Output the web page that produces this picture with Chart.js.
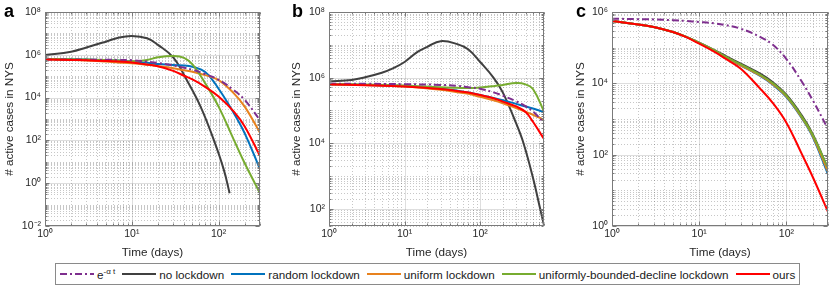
<!DOCTYPE html>
<html lang="en">
  <head>
    <meta charset="UTF-8" />
    <title>active cases in NYS</title>
    <style>
      body { margin: 0; width: 831px; height: 288px; background: #fff; position: relative; overflow: hidden;
             font-family: 'Liberation Sans', Arial, Helvetica, sans-serif; color: #262626; }
      .panel { position: absolute; top: 0; height: 262px; }
      .tag { position: absolute; top: 2px; font-weight: bold; font-size: 18px; line-height: 18px; color: #000; }
      #legend { position: absolute; left: 55px; top: 263px; height: 20px; border: 1px solid #8a8a8a;
                display: flex; align-items: center; padding: 0 4px; white-space: nowrap; font-size: 11.7px; color: #1a1a1a; }
      #legend .item { display: flex; align-items: center; margin-right: 7px; }
      #legend .item:last-child { margin-right: 0; }
      #legend svg { margin-right: 3px; }
      #legend sup { font-size: 8px; vertical-align: 5px; line-height: 0; }
    </style>
  </head>
  <body>
    <div class="panel" style="left:0;width:270px"><canvas id="chartA"></canvas></div>
    <div class="panel" style="left:275px;width:275px"><canvas id="chartB"></canvas></div>
    <div class="panel" style="left:555px;width:276px"><canvas id="chartC"></canvas></div>
    <div class="tag" style="left:4px">a</div>
    <div class="tag" style="left:292px">b</div>
    <div class="tag" style="left:576px">c</div>
    <div id="legend"></div>

    <script src="https://cdn.jsdelivr.net/npm/chart.js"></script>
    <script>
      // series names and colours
      const names = ["e-αt", "no lockdown", "random lockdown", "uniform lockdown", "uniformly-bounded-decline lockdown", "ours"];
      const colors = ["#7E2F8E", "#404040", "#0072BD", "#E8821E", "#77AC30", "#FF0000"];

      // tick labels
      const xTicks = [1, 10, 100];
      const xTickLabels = ["10⁰", "10¹", "10²"];
      const yTicksA = [1e-2, 1, 1e2, 1e4, 1e6, 1e8];
      const yTickLabelsA = ["10⁻²", "10⁰", "10²", "10⁴", "10⁶", "10⁸"];
      const yTicksB = [1e2, 1e4, 1e6, 1e8];
      const yTickLabelsB = ["10²", "10⁴", "10⁶", "10⁸"];
      const yTicksC = [1, 1e2, 1e4, 1e6];
      const yTickLabelsC = ["10⁰", "10²", "10⁴", "10⁶"];

      // panel a
      const tA = [1, 2, 3, 5, 7, 10, 15, 20, 30, 40, 50, 70, 100, 150, 200, 300];
      const expA = [6.0e5, 6.0e5, 5.9e5, 5.9e5, 5.75e5, 5.6e5, 4.8e5, 4.2e5, 3.2e5, 2.5e5, 2.0e5, 1.26e5, 6.8e4, 2.2e4, 7.8e3, 890];
      const randomA = [6.3e5, 6.2e5, 6.0e5, 5.75e5, 5.4e5, 4.9e5, 4.2e5, 3.7e5, 3.3e5, 3.2e5, 2.75e5, 1.58e5, 2.6e4, 1.86e3, 214, 4.5];
      const uniformA = [6.3e5, 5.75e5, 5.4e5, 4.8e5, 4.4e5, 4.0e5, 3.4e5, 2.95e5, 2.35e5, 1.9e5, 1.62e5, 1.12e5, 6.6e4, 1.58e4, 3.8e3, 230];
      const boundedA = [6.3e5, 6.2e5, 6.0e5, 5.75e5, 5.4e5, 5.0e5, 5.75e5, 7.6e5, 8.7e5, 7.2e5, 3.55e5, 4.7e4, 3.8e3, 105, 8.5, 0.34];
      const oursA = [6.0e5, 5.75e5, 5.5e5, 5.1e5, 4.8e5, 4.4e5, 3.55e5, 2.9e5, 1.78e5, 1.05e5, 7.1e4, 3.2e4, 1.12e4, 2.2e3, 450, 18.6];
      const tNoneA = [1, 2, 3, 5, 7, 10, 15, 20, 30, 43, 62, 88, 115, 134];
      const noneA = [9.8e5, 1.4e6, 2.2e6, 4.1e6, 6.3e6, 7.6e6, 5.9e6, 2.9e6, 7.6e5, 6.6e4, 3.8e3, 105, 4.2, 0.34];

      // panel b
      const tB = [1, 3, 10, 30, 50, 70, 100, 150, 200, 300, 400, 500, 700];
      const expB = [6.5e5, 6.5e5, 6.3e5, 6.0e5, 5.6e5, 5.1e5, 4.6e5, 3.55e5, 2.8e5, 1.9e5, 1.32e5, 9.3e4, 4.2e4];
      const randomB = [6.3e5, 6.0e5, 5.5e5, 4.6e5, 4.0e5, 3.5e5, 2.95e5, 2.4e5, 2.05e5, 1.58e5, 1.32e5, 1.15e5, 8.9e4];
      const uniformB = [6.3e5, 6.0e5, 5.4e5, 4.3e5, 3.6e5, 3.2e5, 2.6e5, 2.05e5, 1.66e5, 1.17e5, 9.1e4, 7.4e4, 5.2e4];
      const boundedB = [6.3e5, 6.2e5, 5.75e5, 5.1e5, 4.9e5, 4.8e5, 5.0e5, 5.5e5, 6.0e5, 6.8e5, 6.2e5, 4.5e5, 9.3e4];
      const oursB = [6.2e5, 5.9e5, 5.4e5, 4.5e5, 3.9e5, 3.5e5, 2.95e5, 2.35e5, 1.86e5, 1.32e5, 8.9e4, 4.5e4, 1.35e4];
      const tNoneB = [1, 2, 3, 5, 7, 10, 15, 20, 30, 50, 70, 100, 150, 200, 300, 375, 500, 623, 700];
      const noneB = [7.6e5, 8.5e5, 1.02e6, 1.4e6, 1.9e6, 3.0e6, 6.2e6, 8.7e6, 1.29e7, 1.05e7, 7.2e6, 3.0e6, 1.0e6, 3.5e5, 4.0e4, 1.0e4, 890, 100, 32];

      // panel c
      const tC = [1, 2, 3, 5, 7, 10, 15, 20, 30, 50, 70, 100, 150, 200, 300];
      const expC = [6.5e5, 6.3e5, 6.2e5, 5.9e5, 5.6e5, 5.25e5, 4.8e5, 4.3e5, 3.4e5, 2.0e5, 1.2e5, 4.8e4, 1.12e4, 3.4e3, 525];
      const noneC = [5.62e5, 4.47e5, 3.8e5, 2.75e5, 2.04e5, 1.38e5, 8.5e4, 5.9e4, 3.55e4, 1.86e4, 1.07e4, 4.8e3, 1.26e3, 380, 40];
      const randomC = [5.62e5, 4.47e5, 3.8e5, 2.75e5, 2.03e5, 1.36e5, 8.2e4, 5.4e4, 3.16e4, 1.62e4, 9.1e3, 4.1e3, 1.05e3, 316, 28];
      const uniformC = [5.62e5, 4.47e5, 3.8e5, 2.75e5, 2.03e5, 1.36e5, 8.3e4, 5.5e4, 3.2e4, 1.66e4, 9.5e3, 4.3e3, 1.1e3, 340, 33];
      const boundedC = [5.62e5, 4.47e5, 3.8e5, 2.75e5, 2.04e5, 1.37e5, 8.4e4, 5.6e4, 3.4e4, 1.74e4, 1.0e4, 4.5e3, 1.17e3, 360, 42];
      const oursC = [5.62e5, 4.47e5, 3.8e5, 2.75e5, 2.0e5, 1.29e5, 7.6e4, 4.9e4, 2.57e4, 7.1e3, 2.8e3, 790, 105, 24, 2.5];

      const FONT = "'Liberation Sans', Arial, Helvetica, sans-serif";
      const dashDot = [7, 3, 2, 3];
      // draw order: red on top, gray at the bottom
      const drawOrder = [1, 5, 4, 3, 2, 0];

      function pts(t, v) {
        return t.map((x, i) => ({ x: x, y: v[i] }));
      }

      function lineSet(k, t, v) {
        return {
          label: names[k],
          data: pts(t, v),
          borderColor: colors[k],
          borderWidth: 2,
          borderDash: k === 0 ? dashDot : [],
          pointRadius: 0,
          tension: 0.4,
          order: drawOrder[k],
        };
      }

      // all 1..9 x 10^k values inside [min, max]
      function logSteps(min, max) {
        const out = [];
        for (let e = Math.floor(Math.log10(min)); e <= Math.ceil(Math.log10(max)); e++) {
          for (let m = 1; m <= 9; m++) {
            const v = m * Math.pow(10, e);
            if (v >= min * 0.999 && v <= max * 1.001) out.push(v);
          }
        }
        return out;
      }

      const isMajor = (list, v) => list.some((m) => Math.abs(m - v) / m < 1e-6);

      // matlab style grid, box and inner tick marks
      const matlabAxes = {
        id: "matlabAxes",
        beforeDatasetsDraw(chart, args, opts) {
          const { ctx, chartArea: a } = chart;
          const sx = chart.scales.x, sy = chart.scales.y;
          ctx.save();
          ctx.lineWidth = 1;
          logSteps(sx.min, sx.max).forEach((v) => {
            const p = Math.round(sx.getPixelForValue(v)) + 0.5;
            const major = isMajor(opts.xMajor, v);
            ctx.strokeStyle = major ? "rgba(0,0,0,0.13)" : "rgba(0,0,0,0.22)";
            ctx.setLineDash(major ? [] : [1, 2]);
            ctx.beginPath(); ctx.moveTo(p, a.top); ctx.lineTo(p, a.bottom); ctx.stroke();
          });
          logSteps(sy.min, sy.max).forEach((v) => {
            const p = Math.round(sy.getPixelForValue(v)) + 0.5;
            const major = isMajor(opts.yMajor, v);
            ctx.strokeStyle = major ? "rgba(0,0,0,0.13)" : "rgba(0,0,0,0.22)";
            ctx.setLineDash(major ? [] : [1, 2]);
            ctx.beginPath(); ctx.moveTo(a.left, p); ctx.lineTo(a.right, p); ctx.stroke();
          });
          ctx.restore();
        },
        afterDatasetsDraw(chart, args, opts) {
          const { ctx, chartArea: a } = chart;
          const sx = chart.scales.x, sy = chart.scales.y;
          const L = Math.round(a.left) + 0.5, R = Math.round(a.right) - 0.5;
          const T = Math.round(a.top) + 0.5, B = Math.round(a.bottom) - 0.5;
          ctx.save();
          ctx.strokeStyle = "#7a7a7a";
          ctx.lineWidth = 1;
          ctx.beginPath();
          logSteps(sx.min, sx.max).forEach((v) => {
            const p = Math.round(sx.getPixelForValue(v)) + 0.5;
            const len = isMajor(opts.xMajor, v) ? 4 : 2;
            ctx.moveTo(p, B); ctx.lineTo(p, B - len);
            ctx.moveTo(p, T); ctx.lineTo(p, T + len);
          });
          logSteps(sy.min, sy.max).forEach((v) => {
            const p = Math.round(sy.getPixelForValue(v)) + 0.5;
            const len = isMajor(opts.yMajor, v) ? 4 : 2;
            ctx.moveTo(L, p); ctx.lineTo(L + len, p);
            ctx.moveTo(R, p); ctx.lineTo(R - len, p);
          });
          ctx.stroke();
          ctx.strokeRect(L, T, R - L, B - T);
          ctx.restore();
        },
      };

      function makePanel(id, p) {
        const tickFont = { family: FONT, size: 10.5 };
        const titleFont = { family: FONT, size: 11.7 };
        return new Chart(document.getElementById(id), {
          type: "line",
          data: { datasets: p.datasets },
          options: {
            responsive: true,
            maintainAspectRatio: false,
            animation: false,
            devicePixelRatio: 1,
            layout: { padding: { left: 0, top: 12, right: p.padRight, bottom: 0 } },
            plugins: {
              legend: { display: false },
              tooltip: { enabled: false },
              matlabAxes: { xMajor: xTicks, yMajor: p.yTicks },
            },
            scales: {
              x: {
                type: "logarithmic",
                min: 1,
                max: p.xMax,
                grid: { display: false, drawTicks: false },
                border: { display: false },
                afterBuildTicks: (s) => { s.ticks = xTicks.map((v) => ({ value: v })); },
                afterFit: (s) => { s.height = 36; },
                ticks: {
                  font: tickFont, color: "#262626", padding: 2, maxRotation: 0, autoSkip: false,
                  callback: (v, i) => xTickLabels[i],
                },
                title: { display: true, text: "Time (days)", font: titleFont, color: "#262626", padding: { top: 0, bottom: 2 } },
              },
              y: {
                type: "logarithmic",
                min: p.yMin,
                max: p.yMax,
                grid: { display: false, drawTicks: false },
                border: { display: false },
                afterBuildTicks: (s) => { s.ticks = p.yTicks.map((v) => ({ value: v })); },
                afterFit: (s) => { s.width = p.axisW; },
                ticks: {
                  font: tickFont, color: "#262626", padding: 4, autoSkip: false,
                  callback: (v, i) => p.yLabels[i],
                },
                title: { display: true, text: "# active cases in NYS", font: titleFont, color: "#262626", padding: { top: p.titlePad, bottom: p.titlePad } },
              },
            },
          },
          plugins: [matlabAxes],
        });
      }

      makePanel("chartA", {
        xMax: 300, yMin: 1e-2, yMax: 1e8, yTicks: yTicksA, yLabels: yTickLabelsA,
        axisW: 45, padRight: 10, titlePad: 3,
        datasets: [
          lineSet(0, tA, expA), lineSet(1, tNoneA, noneA), lineSet(2, tA, randomA),
          lineSet(3, tA, uniformA), lineSet(4, tA, boundedA), lineSet(5, tA, oursA),
        ],
      });

      makePanel("chartB", {
        xMax: 700, yMin: 30, yMax: 1e8, yTicks: yTicksB, yLabels: yTickLabelsB,
        axisW: 54, padRight: 6, titlePad: 15,
        datasets: [
          lineSet(0, tB, expB), lineSet(1, tNoneB, noneB), lineSet(2, tB, randomB),
          lineSet(3, tB, uniformB), lineSet(4, tB, boundedB), lineSet(5, tB, oursB),
        ],
      });

      makePanel("chartC", {
        xMax: 300, yMin: 1, yMax: 1e6, yTicks: yTicksC, yLabels: yTickLabelsC,
        axisW: 57, padRight: 3, titlePad: 19,
        datasets: [
          lineSet(0, tC, expC), lineSet(1, tC, noneC), lineSet(2, tC, randomC),
          lineSet(3, tC, uniformC), lineSet(4, tC, boundedC), lineSet(5, tC, oursC),
        ],
      });

      // legend
      const legend = document.getElementById("legend");
      names.forEach((n, k) => {
        const item = document.createElement("span");
        item.className = "item";
        const dash = k === 0 ? ' stroke-dasharray="' + dashDot.join(" ") + '"' : "";
        const text = k === 0 ? "e<sup>-α t</sup>" : n;
        item.innerHTML = '<svg width="34" height="10"><line x1="0" y1="5" x2="34" y2="5" stroke="' + colors[k] +
          '" stroke-width="2"' + dash + "/></svg><span>" + text + "</span>";
        legend.appendChild(item);
      });
    </script>
  </body>
</html>
